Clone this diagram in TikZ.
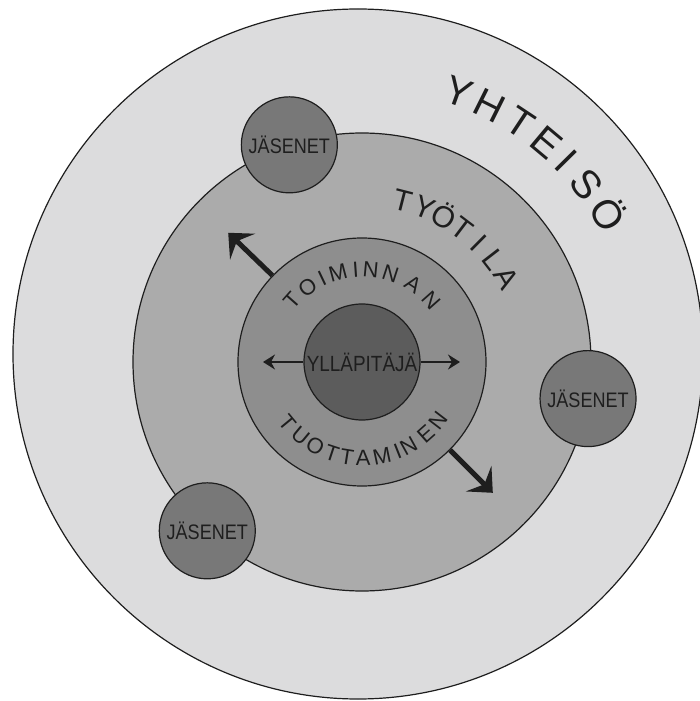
\documentclass[tikz,border=0pt]{standalone}
\usepackage{fontspec}
\setmainfont{Liberation Sans}
\newfontfamily\narrowfont[FakeStretch=0.86]{Liberation Sans}
\usetikzlibrary{arrows.meta}

\definecolor{yhteisofill}{RGB}{220,220,221}
\definecolor{tyotilafill}{RGB}{171,171,171}
\definecolor{toimintafill}{RGB}{142,142,142}
\definecolor{corefill}{RGB}{92,92,92}
\definecolor{jasenfill}{RGB}{120,120,120}
\definecolor{ink}{RGB}{30,30,30}

\tikzset{
  ring/.style={circle, draw=ink, line width=1.2pt, inner sep=0pt},
  jasen/.style={ring, fill=jasenfill, minimum size=96pt,
    font=\narrowfont\fontsize{21}{21}\selectfont, text=ink},
  bigarrow/.style={draw=ink, line width=5pt, -{Stealth[length=20pt,width=36pt,inset=8pt]}},
  smallarrow/.style={draw=ink, line width=1.8pt, -{Stealth[length=12pt,width=15pt,inset=4pt]}},
  letter/.style={inner sep=0pt, anchor=base, text=ink},
}

\begin{document}
\begin{tikzpicture}[x=1pt,y=1pt]
\useasboundingbox (-362,-339) rectangle (338,362);

\node[ring, fill=yhteisofill, minimum size=690pt] (yhteiso) at (-4,8) {};
\node[ring, fill=tyotilafill, minimum size=458pt] (tyotila) at (0,0) {};

\node[jasen] (jasen1) at (108.5:229) {JÄSENET}; % top left
\node[jasen] (jasen2) at (-9.2:229) {JÄSENET}; % right
\node[jasen] (jasen3) at (227.5:229) {JÄSENET}; % bottom left

\node[ring, fill=toimintafill, minimum size=248pt] (toiminta) at (0,0) {};
\node[ring, fill=corefill, minimum size=116pt, text=ink,
      font=\narrowfont\fontsize{22}{22}\selectfont] (yllapitaja) at (0,0) {YLLÄPITÄJÄ};

\coordinate (nw) at (136:186);
\coordinate (se) at (-45:185);
\coordinate (w) at (180:99);
\coordinate (e) at (0:98);

\draw[bigarrow] (toiminta.136) -- (nw);
\draw[bigarrow] (toiminta.-45) -- (se);
\draw[smallarrow] (yllapitaja.west) -- (w);
\draw[smallarrow] (yllapitaja.east) -- (e);

% yhteisö
\foreach \ch/\a [count=\i] in {Y/70.3,H/63.5,T/56.5,E/50,I/44.6,S/38.3,Ö/31}
  \node[letter, font=\fontsize{40}{40}\selectfont, rotate=\a-90] (yh\i) at (\a:272.7) {\ch};

% työtila
\foreach \ch/\a [count=\i] in {T/75.7,Y/68.1,Ö/60.5,T/52.9,I/45.3,L/37.7,A/30.1}
  \node[letter, font=\fontsize{30}{30}\selectfont, rotate=\a-90] (ty\i) at (\a:156.3) {\ch};

% toiminnan
\foreach \ch/\a [count=\i] in {T/138.5,O/126,I/115.5,M/105,I/94,N/84.5,N/72,A/56.5,N/41.5}
  \node[letter, font=\fontsize{22}{22}\selectfont, rotate=\a-90] (to\i) at (\a:85.1) {\ch};

% tuottaminen
\foreach \ch/\a [count=\i] in {T/219.5,U/230.4,O/241,T/251.8,T/261,A/270.6,M/282,I/291.7,N/299,E/311.6,N/322.6}
  \node[letter, font=\fontsize{22}{22}\selectfont, rotate=\a+90] (tu\i) at (\a:103.9) {\ch};
\end{tikzpicture}
\end{document}
